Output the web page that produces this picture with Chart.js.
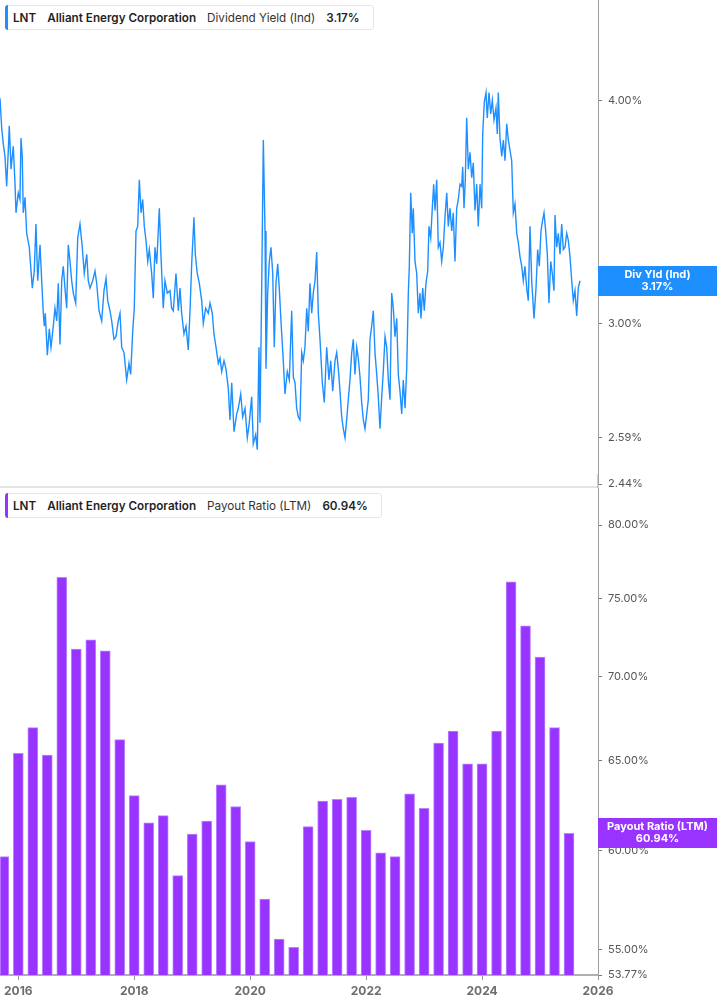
<!DOCTYPE html>
<html>
<head>
<meta charset="utf-8">
<title>LNT - Dividend Yield / Payout Ratio</title>
<script src="https://cdn.jsdelivr.net/npm/chart.js@4.4.1/dist/chart.umd.min.js"></script>
<style>
  html, body { margin: 0; padding: 0; background: #fff; }
  body { width: 717px; height: 1005px; position: relative; overflow: hidden; font-family: Inter, "Noto Sans", sans-serif; }
  .painel { position: absolute; left: 0; width: 717px; }
  #painelYield { top: -14px; height: 512px; }
  #painelPayout { top: 474px; height: 531px; }
  .legenda {
    position: absolute; left: 5px; height: 25px; box-sizing: border-box;
    display: flex; align-items: center; gap: 11px; padding: 0 13px 0 7px;
    border: 1px solid #e6e6e6; border-radius: 3px; background: #fff;
    font-size: 11.7px; color: #1f1f1f; z-index: 2; white-space: nowrap;
  }
  .legenda::before {
    content: ""; position: absolute; left: -1px; top: -1px; bottom: -1px; width: 3px;
    border-radius: 3px 0 0 3px; background: var(--cor);
  }
  .legenda b { font-weight: 600; }
  .legenda span { color: #333; }
</style>
</head>
<body>
<div class="painel" id="painelYield"><canvas id="graficoYield"></canvas></div>
<div class="painel" id="painelPayout"><canvas id="graficoPayout"></canvas></div>
<div class="legenda" style="top:5px; --cor:#1e8fff"><b>LNT</b><b>Alliant Energy Corporation</b><span>Dividend Yield (Ind)</span><b id="ultimoYield"></b></div>
<div class="legenda" style="top:493px; --cor:#9933ff"><b>LNT</b><b>Alliant Energy Corporation</b><span>Payout Ratio (LTM)</span><b id="ultimoPayout"></b></div>

<script>
// dividend yield (%), date as decimal year
const yieldDates = [
  2015.690, 2015.719, 2015.747, 2015.776, 2015.805, 2015.833, 2015.850, 2015.880, 2015.919, 2015.949,
  2015.966, 2016.005, 2016.034, 2016.052, 2016.074, 2016.091, 2016.121, 2016.150, 2016.195, 2016.219,
  2016.247, 2016.281, 2016.310, 2016.340, 2016.380, 2016.409, 2016.437, 2016.454, 2016.471, 2016.506,
  2016.540, 2016.569, 2016.609, 2016.638, 2016.668, 2016.695, 2016.724, 2016.754, 2016.781, 2016.810,
  2016.840, 2016.867, 2016.897, 2016.926, 2016.954, 2016.995, 2017.030, 2017.069, 2017.109, 2017.143,
  2017.185, 2017.212, 2017.242, 2017.288, 2017.328, 2017.357, 2017.397, 2017.443, 2017.483, 2017.518,
  2017.547, 2017.586, 2017.616, 2017.655, 2017.690, 2017.729, 2017.759, 2017.788, 2017.828, 2017.874,
  2017.914, 2017.943, 2017.978, 2018.005, 2018.035, 2018.064, 2018.092, 2018.121, 2018.150, 2018.178,
  2018.207, 2018.237, 2018.264, 2018.305, 2018.333, 2018.362, 2018.392, 2018.437, 2018.466, 2018.505,
  2018.534, 2018.574, 2018.621, 2018.650, 2018.678, 2018.724, 2018.764, 2018.793, 2018.822, 2018.862,
  2018.897, 2018.936, 2018.966, 2018.995, 2019.034, 2019.057, 2019.091, 2019.126, 2019.167, 2019.195,
  2019.236, 2019.281, 2019.311, 2019.350, 2019.379, 2019.414, 2019.454, 2019.483, 2019.512, 2019.552,
  2019.586, 2019.626, 2019.655, 2019.685, 2019.724, 2019.771, 2019.798, 2019.840, 2019.874, 2019.914,
  2019.954, 2019.988, 2020.029, 2020.057, 2020.098, 2020.126, 2020.155, 2020.173, 2020.202, 2020.230,
  2020.259, 2020.276, 2020.305, 2020.333, 2020.362, 2020.392, 2020.419, 2020.448, 2020.478, 2020.505,
  2020.534, 2020.574, 2020.603, 2020.643, 2020.678, 2020.719, 2020.747, 2020.776, 2020.805, 2020.833,
  2020.862, 2020.892, 2020.919, 2020.948, 2020.978, 2021.005, 2021.034, 2021.064, 2021.091, 2021.121,
  2021.150, 2021.178, 2021.207, 2021.247, 2021.281, 2021.322, 2021.362, 2021.392, 2021.426, 2021.466,
  2021.495, 2021.523, 2021.552, 2021.581, 2021.609, 2021.638, 2021.667, 2021.695, 2021.724, 2021.754,
  2021.781, 2021.810, 2021.840, 2021.867, 2021.897, 2021.926, 2021.954, 2021.983, 2022.012, 2022.040,
  2022.069, 2022.098, 2022.126, 2022.155, 2022.185, 2022.212, 2022.241, 2022.271, 2022.298, 2022.328,
  2022.357, 2022.385, 2022.414, 2022.443, 2022.471, 2022.500, 2022.530, 2022.557, 2022.586, 2022.616,
  2022.643, 2022.673, 2022.702, 2022.730, 2022.747, 2022.771, 2022.798, 2022.816, 2022.845, 2022.874,
  2022.902, 2022.931, 2022.948, 2022.978, 2023.005, 2023.034, 2023.064, 2023.086, 2023.116, 2023.143,
  2023.167, 2023.190, 2023.219, 2023.247, 2023.276, 2023.305, 2023.333, 2023.362, 2023.392, 2023.419,
  2023.448, 2023.478, 2023.505, 2023.534, 2023.564, 2023.592, 2023.621, 2023.650, 2023.667, 2023.690,
  2023.712, 2023.736, 2023.764, 2023.793, 2023.823, 2023.850, 2023.879, 2023.909, 2023.936, 2023.966,
  2023.995, 2024.012, 2024.040, 2024.069, 2024.091, 2024.121, 2024.150, 2024.178, 2024.207, 2024.241,
  2024.264, 2024.281, 2024.310, 2024.340, 2024.368, 2024.397, 2024.426, 2024.454, 2024.483, 2024.512,
  2024.540, 2024.569, 2024.599, 2024.626, 2024.655, 2024.685, 2024.712, 2024.741, 2024.771, 2024.798,
  2024.828, 2024.857, 2024.897, 2024.931, 2024.960, 2024.988, 2025.017, 2025.047, 2025.069, 2025.098,
  2025.126, 2025.155, 2025.185, 2025.212, 2025.241, 2025.259, 2025.288, 2025.316, 2025.345, 2025.374,
  2025.402, 2025.431, 2025.460, 2025.488, 2025.517, 2025.547, 2025.574, 2025.603, 2025.633, 2025.660, 2025.690
];
const yieldValues = [
  4.01, 3.86, 3.78, 3.72, 3.58, 3.75, 3.87, 3.66, 3.77, 3.59,
  3.46, 3.55, 3.52, 3.81, 3.72, 3.46, 3.53, 3.37, 3.31, 3.23,
  3.14, 3.21, 3.41, 3.17, 3.32, 3.17, 3.04, 2.99, 3.04, 2.88,
  2.98, 2.91, 2.99, 3.06, 3.01, 3.16, 2.92, 3.17, 3.23, 3.14,
  3.06, 3.32, 3.25, 3.17, 3.12, 3.08, 3.35, 3.41, 3.31, 3.20,
  3.28, 3.17, 3.14, 3.17, 3.21, 3.16, 3.05, 3.01, 3.13, 3.18,
  3.09, 3.05, 3.01, 2.94, 2.95, 3.01, 3.04, 2.91, 2.89, 2.79,
  2.85, 2.81, 2.97, 3.06, 3.38, 3.40, 3.61, 3.46, 3.52, 3.40,
  3.34, 3.25, 3.30, 3.20, 3.10, 3.31, 3.24, 3.48, 3.27, 3.06,
  3.17, 3.12, 3.13, 3.06, 3.05, 3.20, 3.05, 3.14, 3.04, 2.96,
  2.99, 2.90, 3.05, 3.24, 3.44, 3.28, 3.20, 3.16, 3.09, 3.00,
  3.06, 3.04, 3.08, 3.04, 2.96, 2.91, 2.85, 2.87, 2.82, 2.86,
  2.83, 2.76, 2.65, 2.78, 2.61, 2.67, 2.69, 2.74, 2.66, 2.69,
  2.59, 2.64, 2.73, 2.57, 2.60, 2.55, 2.91, 2.64, 3.15, 3.80,
  3.38, 2.83, 3.12, 3.25, 3.31, 3.20, 2.91, 3.16, 3.24, 3.14,
  3.01, 2.86, 2.74, 2.82, 2.79, 3.05, 2.80, 2.78, 2.69, 2.66,
  2.65, 2.89, 2.86, 2.91, 3.06, 2.97, 3.16, 3.04, 3.12, 3.17,
  3.29, 3.04, 2.94, 2.78, 2.71, 2.91, 2.79, 2.86, 2.75, 2.86,
  2.89, 2.83, 2.75, 2.66, 2.62, 2.59, 2.65, 2.72, 2.79, 2.89,
  2.94, 2.81, 2.91, 2.87, 2.80, 2.71, 2.65, 2.62, 2.67, 2.72,
  2.94, 2.99, 3.05, 2.89, 2.81, 2.73, 2.62, 2.73, 2.82, 2.95,
  2.91, 2.79, 2.72, 3.12, 3.06, 2.95, 3.02, 2.81, 2.75, 2.67,
  2.79, 2.69, 2.83, 3.12, 3.23, 3.55, 3.37, 3.48, 3.25, 3.20,
  3.04, 3.12, 3.02, 3.14, 3.05, 3.16, 3.21, 3.40, 3.35, 3.48,
  3.59, 3.47, 3.61, 3.31, 3.33, 3.25, 3.31, 3.44, 3.55, 3.40,
  3.48, 3.38, 3.46, 3.25, 3.48, 3.52, 3.59, 3.58, 3.67, 3.48,
  3.61, 3.91, 3.66, 3.74, 3.62, 3.69, 3.47, 3.59, 3.40, 3.59,
  3.48, 3.83, 3.99, 4.04, 3.91, 4.04, 3.93, 4.00, 3.90, 3.96,
  3.83, 4.04, 3.81, 3.72, 3.80, 3.70, 3.88, 3.80, 3.75, 3.70,
  3.46, 3.50, 3.37, 3.33, 3.27, 3.23, 3.17, 3.23, 3.14, 3.09,
  3.40, 3.17, 3.02, 3.14, 3.30, 3.23, 3.38, 3.43, 3.46, 3.38,
  3.28, 3.08, 3.25, 3.20, 3.13, 3.45, 3.31, 3.37, 3.28, 3.41,
  3.30, 3.31, 3.37, 3.34, 3.27, 3.17, 3.09, 3.13, 3.03, 3.14, 3.17
];
const yieldTicks = [2.44, 2.59, 3.00, 4.00];
const yieldRange = [2.44, 4.551];

// payout ratio LTM (%), quarter ends as decimal year
const payoutDates = [
  2015.75, 2016.00, 2016.25, 2016.50, 2016.75, 2017.00, 2017.25, 2017.50, 2017.75, 2018.00,
  2018.25, 2018.50, 2018.75, 2019.00, 2019.25, 2019.50, 2019.75, 2020.00, 2020.25, 2020.50,
  2020.75, 2021.00, 2021.25, 2021.50, 2021.75, 2022.00, 2022.25, 2022.50, 2022.75, 2023.00,
  2023.25, 2023.50, 2023.75, 2024.00, 2024.25, 2024.50, 2024.75, 2025.00, 2025.25, 2025.50
];
const payoutValues = [
  59.7, 65.4, 66.9, 65.3, 76.4, 71.7, 72.3, 71.6, 66.2, 63.0,
  61.5, 61.9, 58.7, 60.9, 61.6, 63.6, 62.4, 60.5, 57.5, 55.5,
  55.1, 61.3, 62.7, 62.8, 62.9, 61.1, 59.9, 59.7, 63.1, 62.3,
  66.0, 66.7, 64.8, 64.8, 66.7, 76.1, 73.2, 71.2, 66.9, 60.94
];
const payoutTicks = [53.77, 55, 60, 65, 70, 75, 80];
const payoutRange = [53.77, 82.67];

const yearTicks = [2016, 2018, 2020, 2022, 2024, 2026];
const yearRange = [2015.69, 2026];

const corYield = "#1e8fff";
const corPayout = "#9933ff";

Chart.defaults.font.family = "Inter, 'Noto Sans', sans-serif";
Chart.defaults.animation = false;

const ultimoYield = yieldValues[yieldValues.length - 1];
const ultimoPayout = payoutValues[payoutValues.length - 1];
document.getElementById("ultimoYield").textContent = ultimoYield.toFixed(2) + "%";
document.getElementById("ultimoPayout").textContent = ultimoPayout.toFixed(2) + "%";

// coloured tag on the right axis with the last value
const etiquetaValor = {
  id: "etiquetaValor",
  afterDraw(chart, args, opts) {
    const { ctx, chartArea } = chart;
    const y = Math.round(chart.scales.y.getPixelForValue(opts.valor));
    const x0 = chartArea.right, x1 = chart.width;
    ctx.save();
    ctx.fillStyle = opts.cor;
    ctx.fillRect(x0, y - 15, x1 - x0, 30);
    ctx.fillStyle = "#fff";
    ctx.font = "bold 11px Inter, 'Noto Sans', sans-serif";
    ctx.textAlign = "center";
    ctx.textBaseline = "middle";
    ctx.fillText(opts.titulo, (x0 + x1) / 2, y - 6);
    ctx.fillText(opts.valor.toFixed(2) + "%", (x0 + x1) / 2, y + 6);
    ctx.restore();
  }
};

// grey rule between the two panels
const separador = {
  id: "separador",
  beforeDraw(chart) {
    const { ctx, chartArea } = chart;
    ctx.save();
    ctx.fillStyle = "#e3e3e3";
    ctx.fillRect(0, chartArea.top - 2, chartArea.right, 2);
    ctx.fillStyle = "#a0a0a0";
    ctx.fillRect(chartArea.right - 0.5, 0, 1, chartArea.top);
    ctx.restore();
  }
};

function eixoY(faixa, marcas) {
  return {
    type: "logarithmic",
    position: "right",
    min: faixa[0],
    max: faixa[1],
    bounds: "data",
    afterBuildTicks: s => { s.ticks = marcas.map(v => ({ value: v })); },
    afterFit: s => { s.width = 119; },
    grid: { drawOnChartArea: false, drawTicks: true, tickLength: 4, tickColor: "#777" },
    border: { display: true, color: "#a0a0a0", width: 1 },
    ticks: { color: "#555", font: { size: 11 }, padding: 6, autoSkip: false, callback: v => Number(v).toFixed(2) + "%" }
  };
}

new Chart(document.getElementById("graficoYield"), {
  type: "line",
  data: {
    datasets: [{
      data: yieldDates.map((d, i) => ({ x: d, y: yieldValues[i] })),
      borderColor: corYield,
      borderWidth: 1.4,
      pointRadius: 0,
      tension: 0,
      fill: false
    }]
  },
  options: {
    responsive: true,
    maintainAspectRatio: false,
    events: [],
    layout: { padding: { top: 14, bottom: 14, left: 0, right: 0 } },
    plugins: {
      legend: { display: false },
      tooltip: { enabled: false },
      etiquetaValor: { valor: ultimoYield, titulo: "Div Yld (Ind)", cor: corYield }
    },
    scales: {
      x: { type: "linear", display: false, min: yearRange[0], max: yearRange[1] },
      y: eixoY(yieldRange, yieldTicks)
    }
  },
  plugins: [etiquetaValor]
});

new Chart(document.getElementById("graficoPayout"), {
  type: "bar",
  data: {
    datasets: [{
      data: payoutDates.map((d, i) => ({ x: d, y: payoutValues[i] })),
      backgroundColor: corPayout,
      borderColor: "#b986ff",
      borderWidth: 1,
      barThickness: 10
    }]
  },
  options: {
    responsive: true,
    maintainAspectRatio: false,
    events: [],
    layout: { padding: { top: 14, bottom: 0, left: 0, right: 0 } },
    plugins: {
      legend: { display: false },
      tooltip: { enabled: false },
      etiquetaValor: { valor: ultimoPayout, titulo: "Payout Ratio (LTM)", cor: corPayout }
    },
    scales: {
      x: {
        type: "linear",
        min: yearRange[0],
        max: yearRange[1],
        offset: false,
        afterBuildTicks: s => { s.ticks = yearTicks.map(v => ({ value: v })); },
        afterFit: s => { s.height = 30; },
        grid: { drawOnChartArea: false, offset: false, tickLength: 5, tickColor: "#999" },
        border: { display: true, color: "#b0b0b0", width: 2 },
        ticks: { color: "#6e6e6e", font: { size: 12, weight: "bold" }, padding: 4, maxRotation: 0, autoSkip: false, callback: v => String(v) }
      },
      y: eixoY(payoutRange, payoutTicks)
    }
  },
  plugins: [etiquetaValor, separador]
});
</script>
</body>
</html>
